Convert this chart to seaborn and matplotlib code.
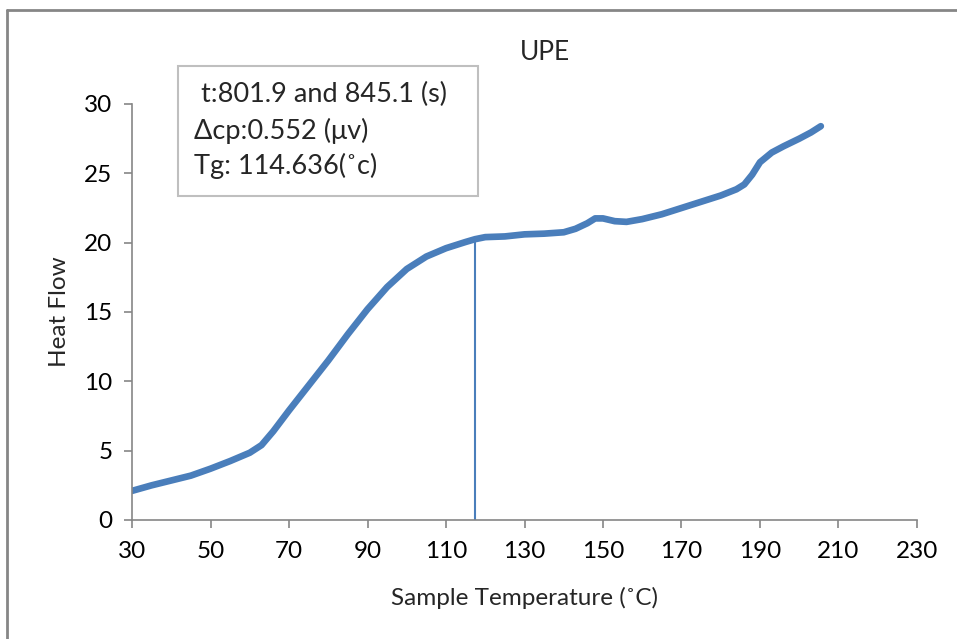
import matplotlib
matplotlib.use("Agg")
import matplotlib.pyplot as plt
import seaborn as sns
import pandas as pd
from matplotlib.lines import Line2D
from matplotlib.patches import Rectangle

# Data
temperature = [30, 35, 40, 45, 50, 55, 60, 63, 66, 70, 75, 80, 85, 90, 95, 100, 105, 110,
               115, 117.4, 120, 125, 130, 135, 140, 143, 146, 148, 150, 153, 156, 160,
               165, 170, 175, 180, 184, 186, 188, 190, 193, 196, 200, 203, 205.5]
heat_flow = [2.1, 2.5, 2.85, 3.2, 3.7, 4.25, 4.85, 5.4, 6.4, 7.9, 9.7, 11.5, 13.4, 15.2,
             16.8, 18.1, 19.0, 19.6, 20.05, 20.25, 20.4, 20.45, 20.6, 20.65, 20.75, 21.0,
             21.4, 21.75, 21.75, 21.55, 21.5, 21.7, 22.05, 22.5, 22.95, 23.4, 23.85, 24.2,
             24.9, 25.8, 26.5, 26.95, 27.5, 27.95, 28.4]
tg_line_x = [117.4, 117.4]
tg_line_y = [0, 20.25]

x_ticks = [30, 50, 70, 90, 110, 130, 150, 170, 190, 210, 230]
y_ticks = [0, 5, 10, 15, 20, 25, 30]

title = "UPE"
x_label = "Sample Temperature (˚C)"
y_label = "Heat Flow"
annotation_lines = [" t:801.9 and 845.1 (s)", "Δcp:0.552 (μv)", "Tg: 114.636(˚c)"]

sns.set_theme(style="white")
plt.rcParams['font.family'] = ['Lato', 'DejaVu Sans']

blue = "#4A7EBB"
grey = "#868686"

df = pd.DataFrame({"T": temperature, "HF": heat_flow})

W, H = 957, 639
fig = plt.figure(figsize=(W / 100, H / 100), dpi=100)
ax = fig.add_axes([132 / W, 1 - 520 / H, (917 - 132) / W, (520 - 104) / H])

sns.lineplot(data=df, x="T", y="HF", ax=ax, color=blue, linewidth=4.8,
             solid_capstyle="round", estimator=None, sort=False)
ax.plot(tg_line_x, tg_line_y, color=blue, linewidth=1.5)

ax.set_xlim(30, 230)
ax.set_ylim(0, 30)
ax.set_xticks(x_ticks)
ax.set_yticks(y_ticks)
ax.tick_params(axis="both", labelsize=17.5, colors="black", length=6, width=1.2,
               direction="out", pad=6)
ax.tick_params(axis="x", color=grey, pad=9)
ax.tick_params(axis="y", color=grey, pad=8)
ax.xaxis.set_ticks_position("bottom")
ax.yaxis.set_ticks_position("left")

for s in ["top", "right"]:
    ax.spines[s].set_visible(False)
for s in ["left", "bottom"]:
    ax.spines[s].set_color(grey)
    ax.spines[s].set_linewidth(1.2)

ax.set_xlabel(x_label, fontsize=17.5, labelpad=18)
ax.set_ylabel(y_label, fontsize=17.5, labelpad=10)
ax.grid(False)

fig.text(545 / W, 1 - 52 / H, title, fontsize=19, ha="center", va="center")

# Annotation box
fig.add_artist(Rectangle((178 / W, 1 - 196 / H), (478 - 178) / W, (196 - 66) / H,
                         transform=fig.transFigure, facecolor="white",
                         edgecolor="#BFBFBF", linewidth=1.5))
for line, yp in zip(annotation_lines, [94, 131, 166]):
    fig.text(194 / W, 1 - yp / H, line, fontsize=19.5, ha="left", va="center")

# Outer chart frame (top and left edges)
fig.add_artist(Line2D([7 / W, 1], [1 - 10 / H, 1 - 10 / H], color=grey, linewidth=2,
                      transform=fig.transFigure))
fig.add_artist(Line2D([7 / W, 7 / W], [0, 1 - 10 / H], color=grey, linewidth=2,
                      transform=fig.transFigure))

fig.savefig("out.png", dpi=100, facecolor="white")
